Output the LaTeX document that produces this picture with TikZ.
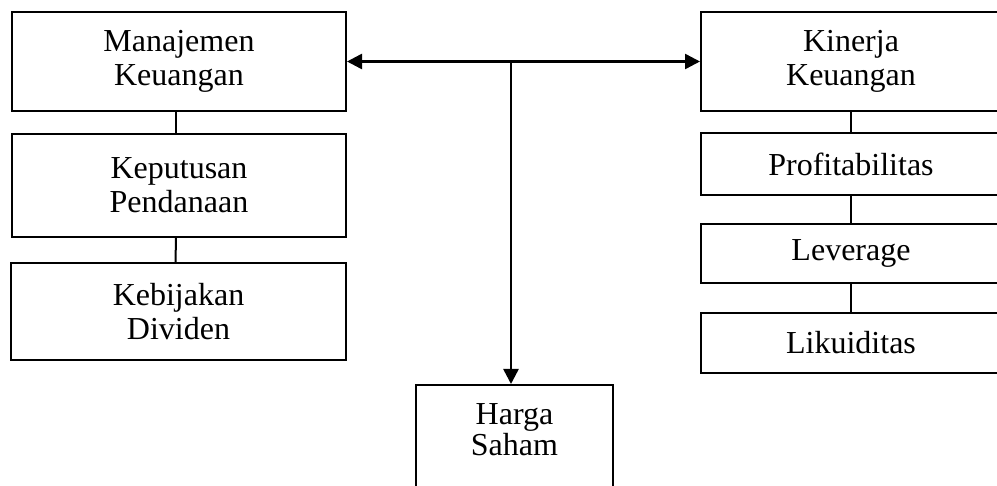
\documentclass[tikz,border=0pt]{standalone}
\usepackage{fontspec}
\setmainfont{Liberation Serif}
\usetikzlibrary{arrows.meta}
\begin{document}
\begin{tikzpicture}[x=1pt,y=-1pt,
  box/.style={draw,line width=2pt,inner sep=0pt,align=center,
    font=\fontsize{32}{34}\selectfont},
  link/.style={line width=2pt},
  tip/.style={Triangle[length=15pt,width=15pt]},
  arr/.style={line width=2.5pt,-{Triangle[length=15pt,width=15pt]}},
  biarr/.style={line width=2.5pt,{Triangle[length=15pt,width=15pt]}-{Triangle[length=15pt,width=15pt]}}]
\useasboundingbox (0,0) rectangle (997,486);
% left column
\node[box,minimum width=334pt,minimum height=99pt] (mk) at (179,61.5) {Manajemen\\Keuangan};
\node[box,minimum width=334pt,minimum height=103pt] (kp) at (179,185.5) {Keputusan\\Pendanaan};
\node[box,minimum width=335pt,minimum height=97pt] (kd) at (178.5,311.5) {Kebijakan\\Dividen};
% right column
\node[box,minimum width=300pt,minimum height=99pt] (kk) at (851,61.5) {Kinerja\\Keuangan};
\node[box,minimum width=300pt,minimum height=62pt] (pr) at (851,164) {Profitabilitas};
\node[box,minimum width=300pt,minimum height=59pt] (lv) at (851,253.5) {Leverage};
\node[box,minimum width=300pt,minimum height=60pt] (lk) at (851,343) {Likuiditas};
% bottom
\node[box,anchor=north,minimum width=197pt,inner ysep=19pt,text depth=60pt,
  font=\fontsize{32}{28}\selectfont] (hs) at (514.5,384) {Harga\\Saham};
% connectors
\draw[link] ([xshift=-3pt]mk.south) -- ([xshift=-3pt]kp.north);
\draw[link] ([xshift=-3pt]kp.south) -- ([xshift=-3pt]kd.north);
\draw[link] (kk.south) -- (pr.north);
\draw[link] (pr.south) -- (lv.north);
\draw[link] (lv.south) -- (lk.north);
\draw[biarr] (mk.east) -- (kk.west);
\coordinate (j) at (511,61.5);
\draw[arr] (j) -- (j |- hs.north);
\end{tikzpicture}
\end{document}
